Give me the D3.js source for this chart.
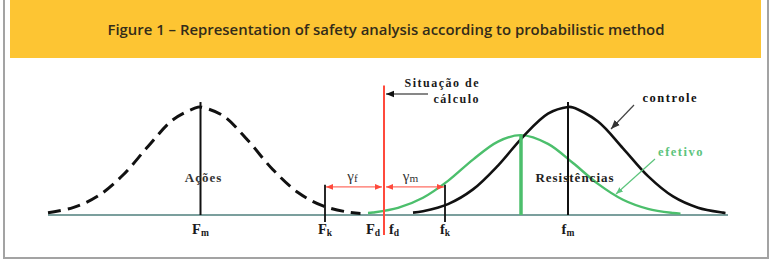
<!DOCTYPE html>
<html><head><meta charset="utf-8">
<script src="https://cdn.jsdelivr.net/npm/d3@7"></script>
<style>html,body{margin:0;padding:0;background:#fff;}svg{display:block;}</style>
</head><body>
<script>
// ---- data (x in abstract strength/load units, y as relative density, peak = 1) ----
const titleText = "Figure 1 – Representation of safety analysis according to probabilistic method";
const actionsX = [0, 0.5, 1, 1.5, 2, 2.5, 3, 3.05, 3.5, 4, 4.5, 5, 5.5, 6, 6.25];
const actionsY = [0.021, 0.068, 0.176, 0.370, 0.634, 0.882, 0.999, 1.0, 0.920, 0.689, 0.419, 0.208, 0.084, 0.027, 0.015];
const controleX = [7.3, 7.5, 8, 8.5, 9, 9.5, 10, 10.4, 10.5, 11, 11.5, 12, 12.5, 13, 13.5, 13.55];
const controleY = [0.022, 0.035, 0.101, 0.237, 0.458, 0.724, 0.938, 1.0, 0.996, 0.866, 0.618, 0.360, 0.172, 0.068, 0.022, 0.019];
const efetivoX = [6.4, 6.5, 7, 7.5, 8, 8.5, 9, 9.46, 10, 10.5, 11, 11.5, 12, 12.5, 12.65];
const efetivoY = [0.018, 0.023, 0.066, 0.160, 0.316, 0.513, 0.680, 0.74, 0.659, 0.481, 0.288, 0.141, 0.057, 0.019, 0.013];
const Fm = 3.05, Fk = 5.54, design = 6.72, fk = 7.94, efMean = 9.46, fm = 10.4, efPeak = 0.74;
const axisLabels = [
  {main: "F", sub: "m", v: Fm, dx: 0},
  {main: "F", sub: "k", v: Fk, dx: 0},
  {main: "F", sub: "d", v: design, dx: -11},
  {main: "f", sub: "d", v: design, dx: 10},
  {main: "f", sub: "k", v: fk, dx: 0},
  {main: "f", sub: "m", v: fm, dx: 0}
];

const W = 771, H = 260;
const svg = d3.select("body").append("svg").attr("width", W).attr("height", H);
const defs = svg.append("defs");
function marker(id, color, size) {
  defs.append("marker").attr("id", id).attr("viewBox", "0 0 10 10").attr("refX", 10).attr("refY", 5)
    .attr("markerWidth", size).attr("markerHeight", size).attr("orient", "auto-start-reverse")
    .attr("markerUnits", "userSpaceOnUse")
    .append("path").attr("d", "M0,1 L10,5 L0,9 Z").attr("fill", color);
}
marker("arRed", "#ff4a3c", 7);
marker("arBlack", "#111", 8);
marker("arGray", "#333", 9);
marker("arGreen", "#5cc47c", 7);

// frame + title band
svg.append("rect").attr("x", 4).attr("y", -3).attr("width", 764).attr("height", 261)
  .attr("fill", "#fff").attr("stroke", "#a3a3a3").attr("stroke-width", 2);
svg.append("rect").attr("x", 10).attr("y", 0).attr("width", 751).attr("height", 58).attr("fill", "#fdc533");
svg.append("text").attr("x", 386).attr("y", 35).attr("text-anchor", "middle")
  .attr("font-family", "'Open Sans', Lato, sans-serif").attr("font-weight", 600).attr("font-size", 14.5).attr("fill", "#332c1a")
  .attr("textLength", 557).attr("lengthAdjust", "spacingAndGlyphs").text(titleText);

const x = d3.scaleLinear().domain([0, 14]).range([48, 748]);
const y = d3.scaleLinear().domain([0, 1]).range([215, 107]);
const line = d3.line().x(d => x(d[0])).y(d => y(d[1])).curve(d3.curveCatmullRom.alpha(0.5));

// baseline
svg.append("line").attr("x1", x(0)).attr("x2", x(13.6)).attr("y1", y(0)).attr("y2", y(0))
  .attr("stroke", "#4f7f7c").attr("stroke-width", 1.5);

// curves
svg.append("path").datum(d3.zip(actionsX, actionsY)).attr("d", line)
  .attr("fill", "none").attr("stroke", "#111").attr("stroke-width", 3).attr("stroke-dasharray", "13,7");
svg.append("path").datum(d3.zip(efetivoX, efetivoY)).attr("d", line)
  .attr("fill", "none").attr("stroke", "#4cbf6c").attr("stroke-width", 2.4);
svg.append("path").datum(d3.zip(controleX, controleY)).attr("d", line)
  .attr("fill", "none").attr("stroke", "#111").attr("stroke-width", 2.6);

// vertical marker lines
function vline(v, y1, y2, color, w) {
  svg.append("line").attr("x1", x(v)).attr("x2", x(v)).attr("y1", y(y1)).attr("y2", y(y2))
    .attr("stroke", color).attr("stroke-width", w);
}
vline(Fm, 1.046, 0, "#111", 2);
vline(fm, 1.046, 0, "#111", 2);
vline(Fk, 0.28, -0.065, "#111", 1.8);
vline(fk, 0.28, -0.065, "#111", 1.8);
vline(efMean, efPeak, 0, "#4cbf6c", 3.5);
vline(design, 1.2, -0.185, "#ff4a3c", 2);

// partial safety factor dimension arrows
const dimY = y(0.26);
svg.append("line").attr("x1", x(Fk) + 1).attr("x2", x(design) - 2).attr("y1", dimY).attr("y2", dimY)
  .attr("stroke", "#ff4a3c").attr("stroke-width", 1)
  .attr("marker-start", "url(#arRed)").attr("marker-end", "url(#arRed)");
svg.append("line").attr("x1", x(design) + 2).attr("x2", x(fk) - 1).attr("y1", dimY).attr("y2", dimY)
  .attr("stroke", "#ff4a3c").attr("stroke-width", 1)
  .attr("marker-start", "url(#arRed)").attr("marker-end", "url(#arRed)");

const serif = "'Liberation Serif', 'DejaVu Serif', serif";
function sym(xp, yp, main, sub, size) {
  const t = svg.append("text").attr("x", xp).attr("y", yp).attr("text-anchor", "middle")
    .attr("font-family", serif).attr("font-size", size).attr("fill", "#333");
  t.append("tspan").text(main);
  t.append("tspan").attr("font-size", size * 0.75).attr("dy", 1).text(sub);
}
sym((x(Fk) + x(design)) / 2 - 2, dimY - 6, "γ", "f", 15);
sym((x(design) + x(fk)) / 2 - 4, dimY - 6, "γ", "m", 15);

// axis labels
axisLabels.forEach(d => {
  const t = svg.append("text").attr("x", x(d.v) + d.dx).attr("y", 234).attr("text-anchor", "middle")
    .attr("font-family", serif).attr("font-weight", "bold").attr("font-size", 14.5).attr("fill", "#1a1a1a");
  t.append("tspan").text(d.main);
  t.append("tspan").attr("font-size", 9.5).attr("dy", 2).text(d.sub);
});

// text annotations
function label(xp, yp, txt, color, size, anchor, ls) {
  svg.append("text").attr("x", xp).attr("y", yp).attr("text-anchor", anchor || "middle")
    .attr("font-family", serif).attr("font-weight", "bold").attr("font-size", size)
    .attr("letter-spacing", ls || 1).attr("fill", color).text(txt);
}
label(x(Fm) + 3, 182, "Ações", "#333", 13, "middle", 1);
label(x(fm) + 7, 182, "Resistências", "#222", 13, "middle", 1);
label(480, 87, "Situação de", "#1a1a1a", 12, "end", 1.5);
label(480, 103, "cálculo", "#1a1a1a", 12, "end", 1.5);
label(698, 102, "controle", "#111", 12.5, "end", 1.5);
label(704, 156, "efetivo", "#5cc47c", 12.5, "end", 1.5);

// pointer arrows
svg.append("line").attr("x1", 428).attr("x2", x(design) + 2).attr("y1", 94).attr("y2", 94)
  .attr("stroke", "#111").attr("stroke-width", 1.2).attr("marker-end", "url(#arBlack)");
svg.append("line").attr("x1", 634).attr("x2", 611).attr("y1", 105).attr("y2", 129)
  .attr("stroke", "#444").attr("stroke-width", 1.2).attr("marker-end", "url(#arGray)");
svg.append("line").attr("x1", 655).attr("x2", 616).attr("y1", 159).attr("y2", 194)
  .attr("stroke", "#5cc47c").attr("stroke-width", 1.2).attr("marker-end", "url(#arGreen)");
</script>
</body></html>
